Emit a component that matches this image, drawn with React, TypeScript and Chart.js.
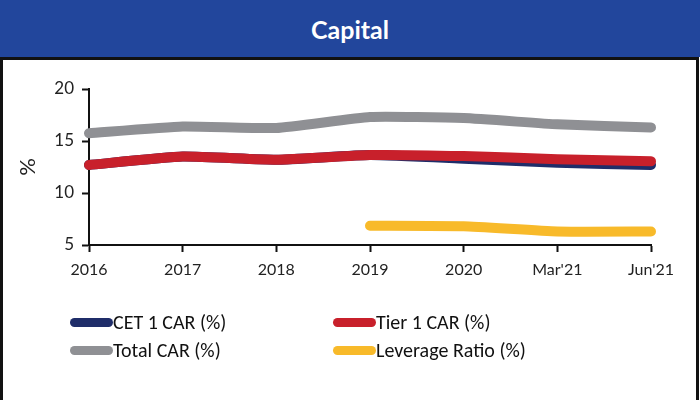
import React, { useEffect, useRef } from "react";
import { Chart, registerables } from "chart.js";

Chart.register(...registerables);

const categories = ["2016", "2017", "2018", "2019", "2020", "Mar'21", "Jun'21"];
const cet1Car = [12.7, 13.5, 13.2, 13.65, 13.3, 12.9, 12.7];
const tier1Car = [12.7, 13.5, 13.2, 13.65, 13.55, 13.25, 13.05];
const totalCar = [15.75, 16.4, 16.25, 17.3, 17.2, 16.6, 16.3];
const leverageRatio = [null, null, null, 6.85, 6.8, 6.3, 6.3];
const yTicks = [5, 10, 15, 20];

const NAVY = "#1F2D69";
const RED = "#C8202B";
const GRAY = "#8F9094";
const YELLOW = "#F8BA2A";
const FONT = "Lato, 'Open Sans', sans-serif";
const LEGEND_FONT = "Carlito, 'Liberation Sans Narrow', Lato, sans-serif";

export default function App() {
  const ref = useRef<HTMLCanvasElement | null>(null);

  useEffect(() => {
    if (!ref.current) return;
    const ds = (label: string, data: (number | null)[], color: string, order: number) => ({
      label,
      data,
      borderColor: color,
      backgroundColor: color,
      borderWidth: 10,
      pointRadius: 0,
      pointHoverRadius: 0,
      tension: 0.15,
      borderCapStyle: "round" as const,
      borderJoinStyle: "round" as const,
      fill: false,
      order,
    });
    const chart = new Chart(ref.current, {
      type: "line",
      data: {
        labels: categories,
        datasets: [
          ds("CET 1 CAR (%)", cet1Car, NAVY, 2),
          ds("Tier 1 CAR (%)", tier1Car, RED, 1),
          ds("Total CAR (%)", totalCar, GRAY, 3),
          ds("Leverage Ratio (%)", leverageRatio, YELLOW, 0),
        ],
      },
      options: {
        animation: false,
        responsive: false,
        maintainAspectRatio: false,
        layout: { autoPadding: false, padding: { left: 15, top: 89, right: 49, bottom: 125 } } as any,
        plugins: { legend: { display: false }, tooltip: { enabled: false }, title: { display: false } },
        scales: {
          x: {
            type: "category",
            offset: false,
            grid: { drawOnChartArea: false, drawTicks: true, tickLength: 7, tickColor: "#111", tickWidth: 2 },
            border: { display: true, color: "#111", width: 2 },
            ticks: { color: "#222", font: { family: FONT, size: 16 }, padding: 8, maxRotation: 0, autoSkip: false },
            afterFit: (s: any) => { s.height = 30; },
          },
          y: {
            min: 5,
            max: 20,
            afterBuildTicks: (s: any) => { s.ticks = yTicks.map((v) => ({ value: v })); },
            grid: { drawOnChartArea: false, drawTicks: true, tickLength: 7, tickColor: "#111", tickWidth: 2 },
            border: { display: true, color: "#111", width: 2 },
            ticks: { color: "#222", font: { family: FONT, size: 17 }, padding: 8 },
            title: { display: true, text: "%", color: "#222", font: { family: FONT, size: 22 }, padding: { top: 0, bottom: 6 } },
            afterFit: (s: any) => { s.width = 74; },
          },
        },
      },
    });
    return () => chart.destroy();
  }, []);

  const legendItems = [
    { label: "CET 1 CAR (%)", color: NAVY, x: 70, y: 322 },
    { label: "Tier 1 CAR (%)", color: RED, x: 333, y: 322 },
    { label: "Total CAR (%)", color: GRAY, x: 70, y: 350 },
    { label: "Leverage Ratio (%)", color: YELLOW, x: 333, y: 350 },
  ];

  return (
    <div style={{ position: "fixed", left: 0, top: 0, width: 700, height: 400, background: "#fff", overflow: "hidden", fontFamily: FONT }}>
      <div style={{ position: "absolute", left: 0, top: 57, width: 693, height: 340, border: "3px solid #111", background: "#fff" }} />
      <canvas ref={ref} width={700} height={400} style={{ position: "absolute", left: 0, top: 0, width: 700, height: 400 }} />
      <div style={{ position: "absolute", left: 0, top: 0, width: 700, height: 57, background: "#22469C", color: "#fff", display: "flex", alignItems: "center", justifyContent: "center", fontSize: 25, fontWeight: 700 }}>
        Capital
      </div>
      {legendItems.map((it) => (
        <div key={it.label} style={{ position: "absolute", left: it.x, top: it.y - 12, height: 24, display: "flex", alignItems: "center", fontSize: 20, color: "#111", whiteSpace: "nowrap", fontFamily: LEGEND_FONT }}>
          <span style={{ display: "inline-block", width: 43, height: 9, borderRadius: 5, background: it.color }} />
          <span>{it.label}</span>
        </div>
      ))}
    </div>
  );
}
